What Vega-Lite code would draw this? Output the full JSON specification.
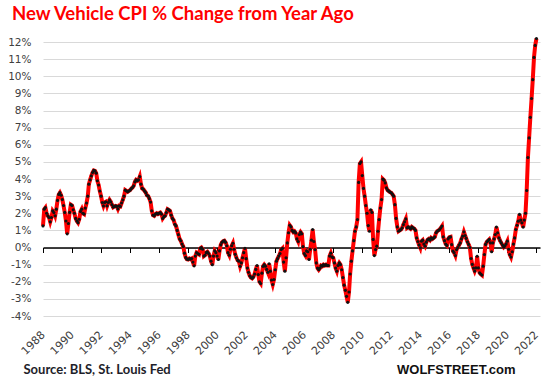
{
  "$schema": "https://vega.github.io/schema/vega-lite/v6.json",
  "autosize": "none",
  "width": 497,
  "height": 274,
  "padding": {"left": 43, "top": 42, "right": 6, "bottom": 64},
  "background": "white",
  "config": {"view": {"stroke": null}},
  "title": {
    "text": "New Vehicle CPI % Change from Year Ago",
    "anchor": "start",
    "frame": "group",
    "font": "Lato",
    "fontSize": 18.5,
    "fontWeight": "bold",
    "color": "#ff0000",
    "dx": -31,
    "dy": 11.5,
    "baseline": "alphabetic",
    "offset": 4
  },
  "data": {"values": [
{"d":"1988-01","v":1.26},{"d":"1988-02","v":2.24},{"d":"1988-03","v":2.33},{"d":"1988-04","v":2.0},{"d":"1988-05","v":1.85},{"d":"1988-06","v":1.75},{"d":"1988-07","v":1.5},{"d":"1988-08","v":1.75},{"d":"1988-09","v":2.14},{"d":"1988-10","v":2.04},{"d":"1988-11","v":1.85},{"d":"1988-12","v":2.24},
{"d":"1989-01","v":2.75},{"d":"1989-02","v":3.1},{"d":"1989-03","v":3.2},{"d":"1989-04","v":3.05},{"d":"1989-05","v":2.8},{"d":"1989-06","v":2.45},{"d":"1989-07","v":2.05},{"d":"1989-08","v":1.55},{"d":"1989-09","v":0.8},{"d":"1989-10","v":1.4},{"d":"1989-11","v":2.05},{"d":"1989-12","v":2.5},
{"d":"1990-01","v":2.45},{"d":"1990-02","v":2.2},{"d":"1990-03","v":2.0},{"d":"1990-04","v":1.7},{"d":"1990-05","v":1.55},{"d":"1990-06","v":1.45},{"d":"1990-07","v":1.65},{"d":"1990-08","v":2.1},{"d":"1990-09","v":2.24},{"d":"1990-10","v":2.0},{"d":"1990-11","v":1.95},{"d":"1990-12","v":2.3},
{"d":"1991-01","v":2.6},{"d":"1991-02","v":3.0},{"d":"1991-03","v":3.7},{"d":"1991-04","v":3.95},{"d":"1991-05","v":4.18},{"d":"1991-06","v":4.38},{"d":"1991-07","v":4.5},{"d":"1991-08","v":4.47},{"d":"1991-09","v":4.34},{"d":"1991-10","v":3.9},{"d":"1991-11","v":3.65},{"d":"1991-12","v":3.3},
{"d":"1992-01","v":3.0},{"d":"1992-02","v":2.63},{"d":"1992-03","v":2.43},{"d":"1992-04","v":2.63},{"d":"1992-05","v":2.67},{"d":"1992-06","v":2.43},{"d":"1992-07","v":2.63},{"d":"1992-08","v":2.78},{"d":"1992-09","v":2.67},{"d":"1992-10","v":2.5},{"d":"1992-11","v":2.35},{"d":"1992-12","v":2.4},
{"d":"1993-01","v":2.43},{"d":"1993-02","v":2.4},{"d":"1993-03","v":2.25},{"d":"1993-04","v":2.43},{"d":"1993-05","v":2.4},{"d":"1993-06","v":2.6},{"d":"1993-07","v":2.78},{"d":"1993-08","v":3.0},{"d":"1993-09","v":3.35},{"d":"1993-10","v":3.3},{"d":"1993-11","v":3.25},{"d":"1993-12","v":3.3},
{"d":"1994-01","v":3.35},{"d":"1994-02","v":3.44},{"d":"1994-03","v":3.5},{"d":"1994-04","v":3.6},{"d":"1994-05","v":3.83},{"d":"1994-06","v":3.95},{"d":"1994-07","v":3.9},{"d":"1994-08","v":3.95},{"d":"1994-09","v":4.14},{"d":"1994-10","v":3.7},{"d":"1994-11","v":3.45},{"d":"1994-12","v":3.4},
{"d":"1995-01","v":3.3},{"d":"1995-02","v":3.2},{"d":"1995-03","v":3.05},{"d":"1995-04","v":3.0},{"d":"1995-05","v":2.85},{"d":"1995-06","v":2.65},{"d":"1995-07","v":2.14},{"d":"1995-08","v":1.89},{"d":"1995-09","v":1.85},{"d":"1995-10","v":1.95},{"d":"1995-11","v":2.0},{"d":"1995-12","v":1.95},
{"d":"1996-01","v":2.0},{"d":"1996-02","v":2.04},{"d":"1996-03","v":1.95},{"d":"1996-04","v":1.7},{"d":"1996-05","v":1.8},{"d":"1996-06","v":1.85},{"d":"1996-07","v":2.04},{"d":"1996-08","v":2.24},{"d":"1996-09","v":2.2},{"d":"1996-10","v":2.14},{"d":"1996-11","v":1.89},{"d":"1996-12","v":1.7},
{"d":"1997-01","v":1.6},{"d":"1997-02","v":1.36},{"d":"1997-03","v":1.26},{"d":"1997-04","v":1.0},{"d":"1997-05","v":0.75},{"d":"1997-06","v":0.5},{"d":"1997-07","v":0.39},{"d":"1997-08","v":0.2},{"d":"1997-09","v":0.06},{"d":"1997-10","v":-0.33},{"d":"1997-11","v":-0.58},{"d":"1997-12","v":-0.68},
{"d":"1998-01","v":-0.7},{"d":"1998-02","v":-0.64},{"d":"1998-03","v":-0.68},{"d":"1998-04","v":-0.64},{"d":"1998-05","v":-0.85},{"d":"1998-06","v":-1.07},{"d":"1998-07","v":-0.5},{"d":"1998-08","v":-0.3},{"d":"1998-09","v":-0.35},{"d":"1998-10","v":-0.4},{"d":"1998-11","v":-0.05},{"d":"1998-12","v":0.0},
{"d":"1999-01","v":-0.1},{"d":"1999-02","v":-0.5},{"d":"1999-03","v":-0.45},{"d":"1999-04","v":-0.3},{"d":"1999-05","v":-0.25},{"d":"1999-06","v":-0.35},{"d":"1999-07","v":-0.5},{"d":"1999-08","v":-0.8},{"d":"1999-09","v":-1.0},{"d":"1999-10","v":-0.5},{"d":"1999-11","v":-0.2},{"d":"1999-12","v":-0.3},
{"d":"2000-01","v":-0.5},{"d":"2000-02","v":-0.7},{"d":"2000-03","v":-0.2},{"d":"2000-04","v":0.15},{"d":"2000-05","v":0.3},{"d":"2000-06","v":0.37},{"d":"2000-07","v":0.4},{"d":"2000-08","v":0.3},{"d":"2000-09","v":0.1},{"d":"2000-10","v":-0.3},{"d":"2000-11","v":-0.45},{"d":"2000-12","v":-0.1},
{"d":"2001-01","v":0.1},{"d":"2001-02","v":0.25},{"d":"2001-03","v":-0.1},{"d":"2001-04","v":-0.4},{"d":"2001-05","v":-0.6},{"d":"2001-06","v":-0.75},{"d":"2001-07","v":-0.8},{"d":"2001-08","v":-1.1},{"d":"2001-09","v":-0.9},{"d":"2001-10","v":-0.6},{"d":"2001-11","v":-0.3},{"d":"2001-12","v":-0.05},
{"d":"2002-01","v":-0.65},{"d":"2002-02","v":-1.2},{"d":"2002-03","v":-1.45},{"d":"2002-04","v":-1.65},{"d":"2002-05","v":-1.75},{"d":"2002-06","v":-1.8},{"d":"2002-07","v":-1.72},{"d":"2002-08","v":-1.55},{"d":"2002-09","v":-1.28},{"d":"2002-10","v":-1.05},{"d":"2002-11","v":-1.58},{"d":"2002-12","v":-2.0},
{"d":"2003-01","v":-2.1},{"d":"2003-02","v":-1.5},{"d":"2003-03","v":-1.1},{"d":"2003-04","v":-1.0},{"d":"2003-05","v":-1.09},{"d":"2003-06","v":-1.28},{"d":"2003-07","v":-1.45},{"d":"2003-08","v":-0.95},{"d":"2003-09","v":-1.38},{"d":"2003-10","v":-1.9},{"d":"2003-11","v":-2.16},{"d":"2003-12","v":-1.87},
{"d":"2004-01","v":-1.3},{"d":"2004-02","v":-0.8},{"d":"2004-03","v":-0.65},{"d":"2004-04","v":-0.5},{"d":"2004-05","v":-0.35},{"d":"2004-06","v":-0.12},{"d":"2004-07","v":-0.05},{"d":"2004-08","v":-0.85},{"d":"2004-09","v":-1.38},{"d":"2004-10","v":-0.6},{"d":"2004-11","v":0.27},{"d":"2004-12","v":0.86},
{"d":"2005-01","v":1.3},{"d":"2005-02","v":1.2},{"d":"2005-03","v":1.0},{"d":"2005-04","v":0.9},{"d":"2005-05","v":0.95},{"d":"2005-06","v":0.85},{"d":"2005-07","v":0.5},{"d":"2005-08","v":0.35},{"d":"2005-09","v":0.76},{"d":"2005-10","v":0.9},{"d":"2005-11","v":0.8},{"d":"2005-12","v":0.05},
{"d":"2006-01","v":-0.35},{"d":"2006-02","v":-0.47},{"d":"2006-03","v":-0.2},{"d":"2006-04","v":-0.25},{"d":"2006-05","v":-0.7},{"d":"2006-06","v":-0.1},{"d":"2006-07","v":0.43},{"d":"2006-08","v":1.05},{"d":"2006-09","v":0.35},{"d":"2006-10","v":-0.12},{"d":"2006-11","v":-0.9},{"d":"2006-12","v":-1.2},
{"d":"2007-01","v":-1.3},{"d":"2007-02","v":-1.2},{"d":"2007-03","v":-1.05},{"d":"2007-04","v":-1.09},{"d":"2007-05","v":-1.0},{"d":"2007-06","v":-1.05},{"d":"2007-07","v":-1.0},{"d":"2007-08","v":-1.05},{"d":"2007-09","v":-1.05},{"d":"2007-10","v":-0.5},{"d":"2007-11","v":-0.33},{"d":"2007-12","v":-0.55},
{"d":"2008-01","v":-0.6},{"d":"2008-02","v":-0.9},{"d":"2008-03","v":-1.2},{"d":"2008-04","v":-1.38},{"d":"2008-05","v":-1.05},{"d":"2008-06","v":-0.9},{"d":"2008-07","v":-1.0},{"d":"2008-08","v":-1.3},{"d":"2008-09","v":-1.75},{"d":"2008-10","v":-2.2},{"d":"2008-11","v":-2.5},{"d":"2008-12","v":-2.85},
{"d":"2009-01","v":-3.2},{"d":"2009-02","v":-2.6},{"d":"2009-03","v":-1.55},{"d":"2009-04","v":-0.8},{"d":"2009-05","v":-0.2},{"d":"2009-06","v":0.4},{"d":"2009-07","v":0.95},{"d":"2009-08","v":1.2},{"d":"2009-09","v":1.63},{"d":"2009-10","v":3.8},{"d":"2009-11","v":4.9},{"d":"2009-12","v":5.0},
{"d":"2010-01","v":4.2},{"d":"2010-02","v":3.45},{"d":"2010-03","v":3.0},{"d":"2010-04","v":2.45},{"d":"2010-05","v":2.0},{"d":"2010-06","v":1.28},{"d":"2010-07","v":0.95},{"d":"2010-08","v":2.2},{"d":"2010-09","v":2.05},{"d":"2010-10","v":0.47},{"d":"2010-11","v":-0.47},{"d":"2010-12","v":-0.12},
{"d":"2011-01","v":0.08},{"d":"2011-02","v":0.95},{"d":"2011-03","v":1.63},{"d":"2011-04","v":2.3},{"d":"2011-05","v":2.8},{"d":"2011-06","v":4.0},{"d":"2011-07","v":3.93},{"d":"2011-08","v":3.77},{"d":"2011-09","v":3.48},{"d":"2011-10","v":3.35},{"d":"2011-11","v":3.29},{"d":"2011-12","v":3.23},
{"d":"2012-01","v":3.19},{"d":"2012-02","v":3.1},{"d":"2012-03","v":3.0},{"d":"2012-04","v":2.5},{"d":"2012-05","v":1.7},{"d":"2012-06","v":1.2},{"d":"2012-07","v":0.95},{"d":"2012-08","v":1.0},{"d":"2012-09","v":1.05},{"d":"2012-10","v":1.15},{"d":"2012-11","v":1.34},{"d":"2012-12","v":1.5},
{"d":"2013-01","v":1.67},{"d":"2013-02","v":1.15},{"d":"2013-03","v":1.2},{"d":"2013-04","v":1.15},{"d":"2013-05","v":1.09},{"d":"2013-06","v":1.2},{"d":"2013-07","v":1.15},{"d":"2013-08","v":1.1},{"d":"2013-09","v":1.0},{"d":"2013-10","v":0.56},{"d":"2013-11","v":0.35},{"d":"2013-12","v":0.15},
{"d":"2014-01","v":-0.02},{"d":"2014-02","v":0.37},{"d":"2014-03","v":0.43},{"d":"2014-04","v":0.2},{"d":"2014-05","v":0.08},{"d":"2014-06","v":0.31},{"d":"2014-07","v":0.45},{"d":"2014-08","v":0.5},{"d":"2014-09","v":0.43},{"d":"2014-10","v":0.56},{"d":"2014-11","v":0.5},{"d":"2014-12","v":0.55},
{"d":"2015-01","v":0.62},{"d":"2015-02","v":0.86},{"d":"2015-03","v":0.95},{"d":"2015-04","v":1.0},{"d":"2015-05","v":1.05},{"d":"2015-06","v":1.15},{"d":"2015-07","v":1.25},{"d":"2015-08","v":0.62},{"d":"2015-09","v":0.4},{"d":"2015-10","v":0.2},{"d":"2015-11","v":0.12},{"d":"2015-12","v":0.5},
{"d":"2016-01","v":0.6},{"d":"2016-02","v":0.62},{"d":"2016-03","v":0.17},{"d":"2016-04","v":-0.21},{"d":"2016-05","v":-0.3},{"d":"2016-06","v":-0.47},{"d":"2016-07","v":-0.12},{"d":"2016-08","v":0.0},{"d":"2016-09","v":0.14},{"d":"2016-10","v":0.27},{"d":"2016-11","v":0.5},{"d":"2016-12","v":0.66},
{"d":"2017-01","v":0.91},{"d":"2017-02","v":0.7},{"d":"2017-03","v":0.53},{"d":"2017-04","v":0.33},{"d":"2017-05","v":0.18},{"d":"2017-06","v":0.0},{"d":"2017-07","v":-0.64},{"d":"2017-08","v":-0.99},{"d":"2017-09","v":-1.2},{"d":"2017-10","v":-1.38},{"d":"2017-11","v":-1.19},{"d":"2017-12","v":-0.51},
{"d":"2018-01","v":-1.19},{"d":"2018-02","v":-1.48},{"d":"2018-03","v":-1.55},{"d":"2018-04","v":-1.61},{"d":"2018-05","v":-1.09},{"d":"2018-06","v":-0.41},{"d":"2018-07","v":0.18},{"d":"2018-08","v":0.33},{"d":"2018-09","v":0.4},{"d":"2018-10","v":0.47},{"d":"2018-11","v":0.27},{"d":"2018-12","v":-0.25},
{"d":"2019-01","v":0.27},{"d":"2019-02","v":0.5},{"d":"2019-03","v":0.76},{"d":"2019-04","v":1.19},{"d":"2019-05","v":0.86},{"d":"2019-06","v":0.56},{"d":"2019-07","v":0.4},{"d":"2019-08","v":0.27},{"d":"2019-09","v":0.14},{"d":"2019-10","v":0.02},{"d":"2019-11","v":0.1},{"d":"2019-12","v":0.21},
{"d":"2020-01","v":0.37},{"d":"2020-02","v":-0.1},{"d":"2020-03","v":-0.41},{"d":"2020-04","v":-0.56},{"d":"2020-05","v":-0.25},{"d":"2020-06","v":0.2},{"d":"2020-07","v":0.56},{"d":"2020-08","v":1.05},{"d":"2020-09","v":1.3},{"d":"2020-10","v":1.54},{"d":"2020-11","v":1.93},{"d":"2020-12","v":1.6},
{"d":"2021-01","v":1.44},{"d":"2021-02","v":1.19},{"d":"2021-03","v":1.6},{"d":"2021-04","v":2.0},{"d":"2021-05","v":3.33},{"d":"2021-06","v":5.25},{"d":"2021-07","v":6.4},{"d":"2021-08","v":7.6},{"d":"2021-09","v":8.7},{"d":"2021-10","v":9.8},{"d":"2021-11","v":11.1},{"d":"2021-12","v":11.8},
{"d":"2022-01","v":12.2}
  ]},
  "layer": [
    {
      "mark": {"type": "line", "color": "#ff0000", "strokeWidth": 4, "clip": false},
      "encoding": {
        "x": {
          "field": "d", "type": "temporal",
          "scale": {"type": "utc", "domain": [{"year": 1988, "month": 1, "date": 1, "utc": true}, {"year": 2022, "month": 4, "date": 1, "utc": true}], "nice": false},
          "axis": {
            "orient": "bottom",
            "tickCount": {"interval": "year", "step": 2},
            "format": "%Y",
            "grid": false, "domain": false, "ticks": false, "tickSize": 0,
            "labelAngle": -45, "labelAlign": "right", "labelBaseline": "middle",
            "labelPadding": 17,
            "labelFont": "DejaVu Sans", "labelFontSize": 11, "labelColor": "#404040",
            "labelOverlap": false, "labelBound": false, "labelFlush": false,
            "title": "Source: BLS, St. Louis Fed",
            "titleFont": "Lato", "titleFontSize": 13, "titleFontWeight": "bold", "titleColor": "#1e1e2a",
            "titleAnchor": "start", "titleAlign": "left", "titleBaseline": "alphabetic",
            "titleX": -20, "titleY": 57
          }
        },
        "y": {
          "field": "v", "type": "quantitative",
          "scale": {"domain": [-4, 12], "nice": false, "zero": false},
          "axis": {
            "values": [-4, -3, -2, -1, 0, 1, 2, 3, 4, 5, 6, 7, 8, 9, 10, 11, 12],
            "labelExpr": "datum.value + '%'",
            "grid": true, "gridColor": "#d9d9d9", "gridWidth": 1,
            "domain": false, "ticks": false, "tickSize": 0,
            "labelPadding": 12,
            "labelFont": "DejaVu Sans", "labelFontSize": 10.5, "labelColor": "#404040",
            "title": null
          }
        }
      }
    },
    {
      "mark": {"type": "circle", "color": "#111111", "size": 10, "opacity": 1, "clip": false},
      "encoding": {
        "x": {
          "field": "d", "type": "temporal",
          "axis": {
            "orient": "bottom",
            "offset": -68.5,
            "tickCount": {"interval": "year", "step": 2},
            "grid": false, "labels": false,
            "domain": true, "domainColor": "#000000", "domainWidth": 1.5,
            "ticks": true, "tickColor": "#000000", "tickWidth": 1, "tickSize": 5,
            "title": "WOLFSTREET.com",
            "titleFont": "Liberation Sans", "titleFontSize": 13, "titleFontWeight": "bold", "titleColor": "#111111",
            "titleAnchor": "end", "titleAlign": "right", "titleBaseline": "alphabetic",
            "titleX": 472, "titleY": 126
          }
        },
        "y": {
          "field": "v", "type": "quantitative",
          "axis": {
            "values": [-4, -3, -2, -1, 0, 1, 2, 3, 4, 5, 6, 7, 8, 9, 10, 11, 12],
            "labelExpr": "datum.value + '%'",
            "grid": true, "gridColor": "#d9d9d9", "gridWidth": 1,
            "domain": false, "ticks": false, "tickSize": 0,
            "labelPadding": 12,
            "labelFont": "DejaVu Sans", "labelFontSize": 10.5, "labelColor": "#404040",
            "title": null
          }
        }
      }
    }
  ],
  "resolve": {"axis": {"x": "independent"}}
}
